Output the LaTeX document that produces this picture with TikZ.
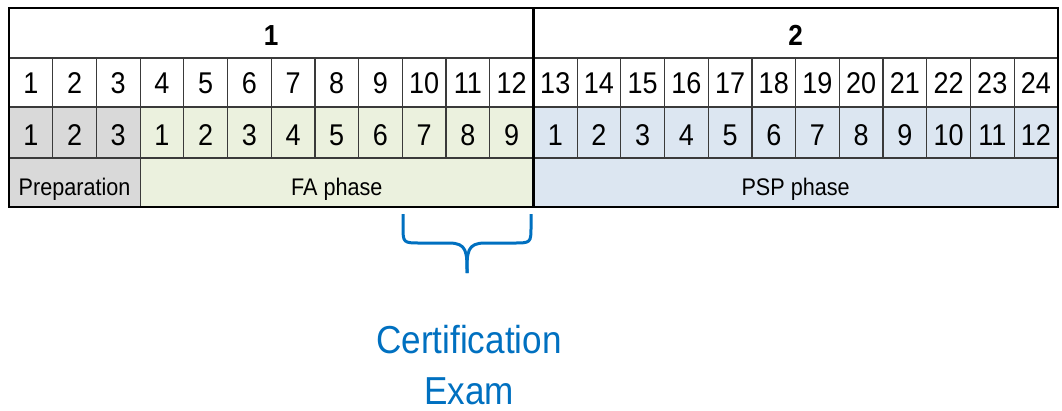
\documentclass[tikz,border=0pt]{standalone}
\usepackage{fontspec}
\setmainfont{Liberation Sans}[FakeStretch=0.9]
\definecolor{prepgray}{HTML}{D9D9D9}
\definecolor{fagreen}{HTML}{EBF1DE}
\definecolor{pspblue}{HTML}{DCE6F1}
\definecolor{gridline}{HTML}{3A3A3A}
\definecolor{exblue}{HTML}{0070C0}
\tikzset{
  num/.style={anchor=base, inner sep=0pt, font=\fontsize{30}{30}\selectfont},
  hdr/.style={anchor=base, inner sep=0pt, font=\fontsize{29}{29}\selectfont\bfseries},
  phase/.style={anchor=base, inner sep=0pt, font=\fontsize{24}{24}\selectfont},
  thin grid/.style={draw=gridline, line width=1.2pt},
  thick grid/.style={draw=black, line width=2.6pt},
  exam/.style={anchor=base, inner sep=0pt, text=exblue, font=\fontsize{39}{39}\selectfont},
  bracepath/.style={draw=exblue, line width=3pt}
}
\begin{document}
\begin{tikzpicture}[x=1pt, y=-1pt]
\useasboundingbox (0,0) rectangle (1062,410);
\def\xo{9}
\def\cw{43.7}
% background fills of the lower two rows
\fill[prepgray] (\xo,107) rectangle ({\xo+3*\cw},207);
\fill[fagreen] ({\xo+3*\cw},107) rectangle ({\xo+12*\cw},207);
\fill[pspblue] ({\xo+12*\cw},107) rectangle ({\xo+24*\cw},207);
% horizontal rules
\foreach \y in {58,107,158}
  \draw[thin grid] (\xo,\y) -- ({\xo+24*\cw},\y);
% vertical rules in the two numbered rows
\foreach \i in {1,...,23}
  \draw[thin grid] ({\xo+\i*\cw},58) -- ({\xo+\i*\cw},158);
\draw[thin grid] ({\xo+3*\cw},158) -- ({\xo+3*\cw},207);
% heavy divider and outer frame
\draw[thick grid] ({\xo+12*\cw},8) -- ({\xo+12*\cw},207);
\draw[thick grid] (\xo,8) rectangle ({\xo+24*\cw},207);
% header row
\node[hdr] (h1) at ({\xo+6*\cw},45) {1};
\node[hdr] (h2) at ({\xo+18*\cw},45) {2};
% overall numbering
\foreach \i in {1,...,24}
  \node[num] (n\i) at ({\xo+(\i-0.5)*\cw},93.5) {\i};
% numbering within each phase
\foreach \i/\l in {1/1,2/2,3/3,4/1,5/2,6/3,7/4,8/5,9/6,10/7,11/8,12/9,
                   13/1,14/2,15/3,16/4,17/5,18/6,19/7,20/8,21/9,22/10,23/11,24/12}
  \node[num] (p\i) at ({\xo+(\i-0.5)*\cw},145) {\l};
% phase names
\node[phase] (prep) at ({\xo+1.5*\cw},195) {Preparation};
\node[phase] (fa) at ({\xo+7.5*\cw},195) {FA phase};
\node[phase] (psp) at ({\xo+18*\cw},195) {PSP phase};
% brace under the last weeks of the FA phase
\coordinate (bl) at (403,214);
\coordinate (br) at (531,214);
\coordinate (tip) at (467,273);
\draw[bracepath] (bl) -- (403,226) .. controls (403,243) .. (421,243)
  -- (449,243) .. controls (467,243) and (467,252) .. (tip);
\draw[bracepath] (br) -- (531,226) .. controls (531,243) .. (513,243)
  -- (485,243) .. controls (467,243) and (467,252) .. (tip);
% label below the brace
\node[exam] (cert) at (469,353) {Certification};
\node[exam] (exm) at (469,404) {Exam};
\end{tikzpicture}
\end{document}
